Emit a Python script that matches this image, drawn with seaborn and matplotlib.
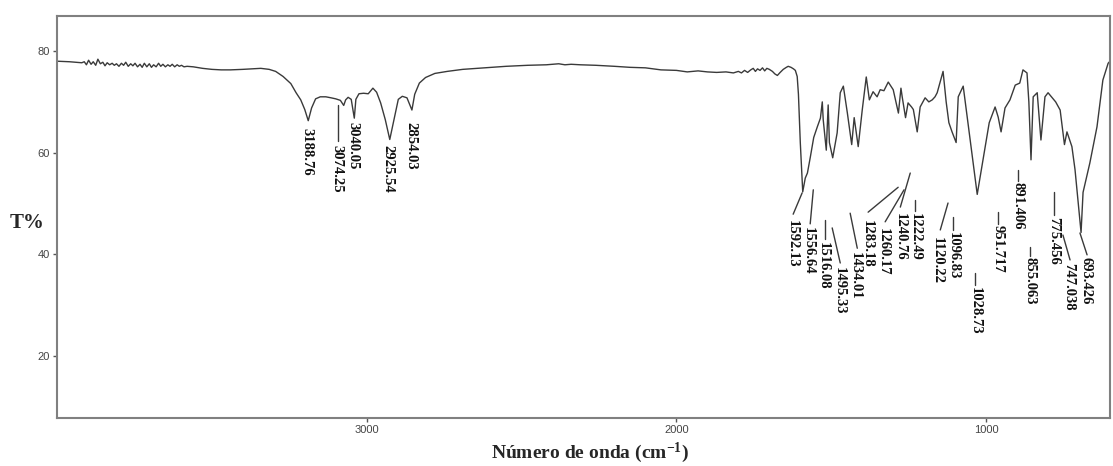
import pandas as pd
import seaborn as sns
import matplotlib.pyplot as plt

# IR spectrum
wavenumber = [
    3998, 3960, 3920, 3912, 3905, 3898, 3890, 3883, 3875, 3868, 3860, 3852, 3845,
    3838, 3830, 3822, 3815, 3808, 3800, 3792, 3785, 3778, 3770, 3762, 3755, 3748,
    3740, 3732, 3725, 3718, 3710, 3702, 3695, 3688, 3680, 3672, 3665, 3658, 3650,
    3642, 3635, 3628, 3620, 3612, 3605, 3598, 3590, 3580, 3560, 3530, 3500, 3470,
    3440, 3400, 3370, 3342, 3315, 3294, 3270, 3245, 3228, 3213, 3200, 3188.76,
    3178, 3165, 3150, 3132, 3115, 3100, 3085, 3074.25, 3068, 3060, 3050, 3040.05,
    3035, 3025, 3010, 2995, 2980, 2968, 2955, 2940, 2925.54, 2912, 2898, 2885,
    2870, 2854.03, 2845, 2830, 2810, 2780, 2740, 2690, 2620, 2550, 2480, 2420,
    2380, 2360, 2340, 2310, 2260, 2200, 2150, 2100, 2050, 2000, 1965, 1930, 1900,
    1870, 1840, 1816, 1800, 1790, 1780, 1770, 1760, 1752, 1745, 1738, 1730, 1722,
    1715, 1708, 1700, 1690, 1682, 1674, 1665, 1655, 1645, 1639, 1630, 1622, 1616,
    1610, 1606, 1600, 1592.13, 1584, 1577, 1568, 1556.64, 1545, 1535, 1529, 1526,
    1516.08, 1510, 1506, 1495.33, 1481, 1471, 1461, 1448, 1434.01, 1426, 1413,
    1400, 1387, 1377, 1365, 1352, 1342, 1330, 1316, 1300, 1283.18, 1275, 1271,
    1260.17, 1252, 1240.76, 1235, 1222.49, 1213, 1197, 1185, 1174, 1165, 1158,
    1139, 1129, 1120.22, 1110, 1096.83, 1090, 1074, 1061, 1045, 1028.73, 1010,
    990, 971, 961, 951.717, 939, 923, 906, 891.406, 881, 868, 862, 855.063, 848,
    835, 823, 810, 800, 775.456, 761, 747.038, 739, 723, 713, 693.426, 687, 665,
    642, 623, 606, 600,
]
transmittance = [
    78.0, 77.9, 77.7, 77.9, 77.3, 78.2, 77.4, 77.9, 77.2, 78.4, 77.5, 77.8, 77.1,
    77.7, 77.3, 77.6, 77.2, 77.5, 77.0, 77.6, 77.2, 77.8, 77.0, 77.5, 77.1, 77.6,
    76.9, 77.4, 76.8, 77.6, 76.9, 77.5, 76.8, 77.3, 76.9, 77.6, 77.0, 77.4, 76.9,
    77.3, 77.0, 77.4, 76.9, 77.3, 77.0, 77.2, 76.9, 77.0, 76.9, 76.6, 76.4, 76.3,
    76.3, 76.4, 76.5, 76.6, 76.4, 76.0, 75.0, 73.6, 71.8, 70.4, 68.5, 66.3,
    68.8, 70.6, 71.0, 71.0, 70.8, 70.6, 70.3, 69.3, 70.4, 70.9, 70.5, 66.8,
    70.5, 71.6, 71.7, 71.6, 72.7, 71.9, 69.8, 66.5, 62.6, 66.5, 70.5, 71.1,
    70.8, 68.4, 71.5, 73.7, 74.8, 75.6, 76.0, 76.4, 76.7, 77.0, 77.2, 77.3,
    77.5, 77.3, 77.4, 77.3, 77.2, 77.0, 76.8, 76.7, 76.3, 76.2, 75.9, 76.1, 75.9,
    75.8, 75.9, 75.7, 76.0, 75.7, 76.2, 75.8, 76.3, 76.6, 76.0, 76.5, 76.2, 76.7,
    76.1, 76.6, 76.4, 76.0, 75.5, 75.2, 75.8, 76.4, 76.8, 77.0, 76.8, 76.5, 76.2,
    75.0, 71.5, 62.0, 52.3, 55.0, 56.0, 59.0, 63.0, 65.1, 66.8, 70.0, 66.5,
    60.5, 69.4, 62.0, 59.0, 63.9, 71.8, 73.1, 67.8, 61.6, 66.9, 61.2,
    68.4, 74.9, 70.4, 72.0, 71.0, 72.4, 72.2, 73.9, 72.4, 67.8, 72.7, 71.0,
    66.9, 69.8, 69.0, 68.5, 64.1, 69.0, 70.8, 70.0, 70.4, 71.0, 71.8,
    76.0, 70.0, 65.9, 64.1, 62.0, 71.0, 73.1, 67.0, 59.5, 51.8, 58.6,
    65.9, 69.0, 67.0, 64.1, 68.8, 70.4, 73.3, 73.7, 76.3, 75.7, 70.0, 58.6, 71.0,
    71.8, 62.5, 71.0, 71.8, 70.0, 68.4, 61.6, 64.1, 61.2, 56.7, 44.3, 52.2, 58.0,
    65.1, 74.3, 77.6, 78.0,
]

peak_labels = ["3188.76", "3074.25", "3040.05", "2925.54", "2854.03",
               "1592.13", "1556.64", "1516.08", "1495.33", "1434.01",
               "1283.18", "1260.17", "1240.76", "1222.49", "1120.22",
               "1096.83", "1028.73", "951.717", "891.406", "855.063",
               "775.456", "747.038", "693.426"]

# layout of the annotations: text (x, top y) and leader segment (x0, y0, x1, y1)
label_pos = [(3194, 64.9), (3097, 61.5), (3045, 66.0), (2932, 61.5), (2858, 66.0),
             (1626, 46.8), (1574, 45.4), (1526, 42.4), (1474, 37.5), (1423, 40.5),
             (1384, 46.8), (1332, 45.2), (1277, 48.1), (1229, 48.1), (1158, 43.4),
             (1106, 44.4), (1035, 33.6), (961, 45.8), (897, 54.2), (858, 39.5),
             (781, 47.3), (735, 38.3), (677, 39.5)]
leaders = [None, (3094, 69.4, 3094, 62.3), None, None, None,
           (1594, 52.1, 1623, 47.9), (1558, 52.7, 1568, 46.0), (1519, 46.8, 1519, 43.0),
           (1497, 45.2, 1471, 38.3), (1439, 48.1, 1416, 41.2), (1284, 53.2, 1381, 48.3),
           (1265, 52.7, 1326, 46.4), (1245, 56.0, 1277, 49.3), (1229, 50.7, 1229, 48.5),
           (1123, 50.1, 1148, 44.8), (1106, 47.3, 1106, 44.8), (1035, 36.3, 1035, 34.0),
           (961, 48.3, 961, 46.0), (897, 56.6, 897, 54.4), (858, 41.4, 858, 39.7),
           (781, 52.3, 781, 47.7), (752, 43.8, 729, 38.9), (697, 44.2, 674, 39.9)]

sns.set_style("white")
plt.rcParams["font.family"] = ["Liberation Sans", "DejaVu Sans"]
plt.rcParams["mathtext.default"] = "regular"

df = pd.DataFrame({"wn": wavenumber, "T": transmittance})

fig = plt.figure(figsize=(11.13, 4.66), dpi=100)
ax = fig.add_axes([57 / 1113, 48 / 466, 1053 / 1113, 402 / 466])
sns.lineplot(data=df, x="wn", y="T", sort=False, estimator=None,
             color="#3a3a3a", linewidth=1.0, ax=ax)

serif = dict(family=["Liberation Serif", "DejaVu Serif"], weight="bold")
for txt, (x, y), ld in zip(peak_labels, label_pos, leaders):
    if ld is not None:
        ax.plot([ld[0], ld[2]], [ld[1], ld[3]], color="#3a3a3a", lw=1.0)
    ax.text(x, y, txt, rotation=-90, ha="center", va="top",
            fontsize=10.5, color="#111111", **serif)

ax.set_xlim(4000, 600)
ax.set_ylim(7.8, 86.9)
ax.set_xticks([3000, 2000, 1000])
ax.set_yticks([20, 40, 60, 80])
ax.set_xlabel("")
ax.set_ylabel("")
ax.tick_params(axis="both", direction="out", length=3, width=1, color="#555555",
               labelsize=8, labelcolor="#444444", bottom=True, left=True, pad=2)
for sp in ax.spines.values():
    sp.set_color("#808080")
    sp.set_linewidth(1.5)

fig.text(27 / 1113, 243 / 466, "T%", ha="center", va="center", fontsize=15, **serif)
fig.text(590 / 1113, 13 / 466, "Número de onda (cm$^{-1}$)", ha="center",
         va="center", fontsize=14, **serif)

fig.savefig("out.png", dpi=100)
